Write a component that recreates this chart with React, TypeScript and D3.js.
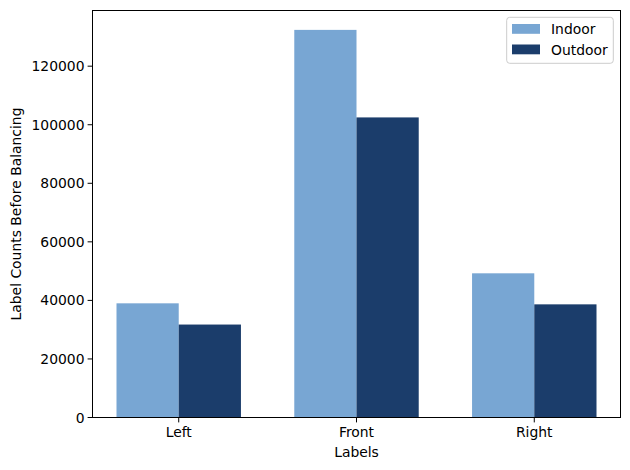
import React from "react";
import * as d3 from "d3";

const categories = ["Left", "Front", "Right"];
const seriesNames = ["Indoor", "Outdoor"];
const indoorValues = [39000, 132400, 49250];
const outdoorValues = [31750, 102500, 38650];
const yTicks = [0, 20000, 40000, 60000, 80000, 100000, 120000];
const colors = ["#78a6d3", "#1b3d6b"];

const W = 630, H = 470;
const left = 92.5, right = 620.5, top = 10.5, bottom = 417.5;
const FONT = "DejaVu Sans, sans-serif";
const FS = 13.9;

export default function App() {
  const series = [indoorValues, outdoorValues];
  const barW = 0.35;
  const maxV = d3.max([...indoorValues, ...outdoorValues]) as number;
  const x = d3.scaleLinear().domain([-0.485, 2.485]).range([left, right]);
  const y = d3.scaleLinear().domain([0, maxV * 1.05]).range([bottom, top]);

  return (
    <svg width={W} height={H} style={{ position: "absolute", left: 0, top: 0 }}>
      <rect width={W} height={H} fill="#fff" />
      {series.map((vals, si) =>
        vals.map((v, i) => {
          const cx = i + (si === 0 ? -barW / 2 : barW / 2);
          const x0 = x(cx - barW / 2);
          const x1 = x(cx + barW / 2);
          return (
            <rect key={`${si}-${i}`} x={x0} y={y(v)} width={x1 - x0} height={y(0) - y(v)} fill={colors[si]} />
          );
        })
      )}
      <rect x={left} y={top} width={right - left} height={bottom - top} fill="none" stroke="#000" strokeWidth={1} />
      {yTicks.map((t) => (
        <g key={t}>
          <line x1={left - 4.9} x2={left} y1={y(t)} y2={y(t)} stroke="#000" strokeWidth={1} />
          <text x={left - 8} y={y(t)} dy="0.36em" textAnchor="end" fontFamily={FONT} fontSize={FS} fill="#000">
            {t}
          </text>
        </g>
      ))}
      {categories.map((c, i) => (
        <g key={c}>
          <line x1={x(i)} x2={x(i)} y1={bottom} y2={bottom + 4.9} stroke="#000" strokeWidth={1} />
          <text x={x(i)} y={bottom + 19} textAnchor="middle" fontFamily={FONT} fontSize={FS} fill="#000">
            {c}
          </text>
        </g>
      ))}
      <text x={(left + right) / 2} y={457} textAnchor="middle" fontFamily={FONT} fontSize={FS} fill="#000">
        Labels
      </text>
      <text
        transform={`translate(20.5, ${(top + bottom) / 2}) rotate(-90)`}
        textAnchor="middle"
        fontFamily={FONT}
        fontSize={FS}
        fill="#000"
      >
        Label Counts Before Balancing
      </text>
      <g>
        <rect x={506.7} y={17.3} width={106.6} height={46} rx={3} fill="#fff" fillOpacity={0.8} stroke="#cccccc" strokeWidth={1} />
        {seriesNames.map((n, i) => (
          <g key={n}>
            <rect x={512} y={24 + i * 20.5} width={28} height={9.8} fill={colors[i]} />
            <text x={551} y={29 + i * 20.5} dy="0.36em" fontFamily={FONT} fontSize={FS} fill="#000">
              {n}
            </text>
          </g>
        ))}
      </g>
    </svg>
  );
}
